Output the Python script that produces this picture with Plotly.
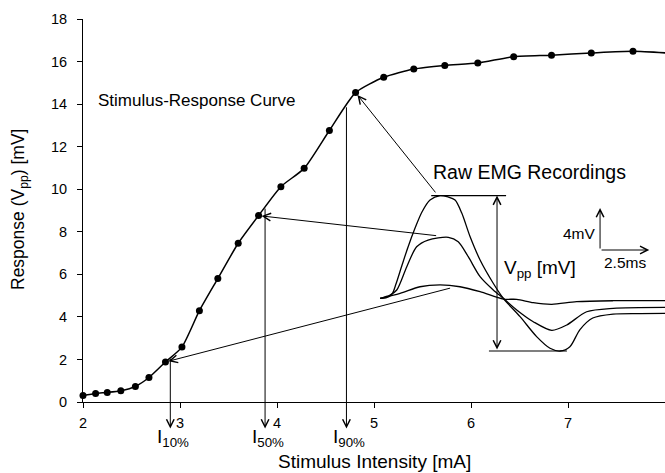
import plotly.graph_objects as go

# ---------------- data ----------------
stim_mA = [2.00, 2.13, 2.25, 2.39, 2.54, 2.68, 2.85, 3.02, 3.20, 3.39, 3.60, 3.81, 4.04,
           4.28, 4.54, 4.81, 5.10, 5.41, 5.73, 6.07, 6.44, 6.83, 7.24, 7.67, 8.10]
resp_mV = [0.30, 0.40, 0.45, 0.53, 0.73, 1.15, 1.88, 2.58, 4.29, 5.80, 7.46, 8.76, 10.12,
           10.98, 12.76, 14.54, 15.26, 15.65, 15.82, 15.93, 16.23, 16.30, 16.40, 16.48, 16.38]

x_ticks = [2, 3, 4, 5, 6, 7, 8]
y_ticks = [0, 2, 4, 6, 8, 10, 12, 14, 16, 18]

# threshold intensities (I10%, I50%, I90%)
pct_labels = ["10%", "50%", "90%"]
pct_x = [2.90, 3.877, 4.716]
pct_y = [2.09, 9.16, 13.92]

# raw EMG recordings (time in ms, amplitude in mV)
big_t = [0.00, 0.30, 0.61, 0.81, 1.12, 1.42, 1.78, 2.13, 2.54, 3.05, 3.45, 3.81, 4.15, 4.57,
         5.08, 5.74, 6.26, 7.11, 7.95, 8.63, 9.14, 9.64, 10.15, 10.80, 11.83, 13.20, 14.47]
big_v = [0.00, 0.03, 0.41, 1.36, 3.17, 4.87, 6.69, 8.22, 9.36, 9.78, 9.65, 9.36, 8.12, 5.88,
         3.65, 1.46, 0.00, -1.75, -3.65, -4.76, -5.02, -4.61, -2.98, -1.88, -1.50, -1.45, -1.43]
mid_t = [0.00, 0.51, 0.85, 1.36, 1.86, 2.44, 3.47, 3.97, 4.48, 5.08, 5.75, 6.26, 6.94, 7.78,
         8.72, 9.48, 10.49, 11.84, 14.47]
mid_v = [0.00, 0.31, 0.79, 3.01, 4.91, 5.55, 5.81, 5.39, 3.96, 2.06, 0.79, 0.00, -1.11, -2.23,
         -3.05, -2.54, -1.28, -0.95, -0.86]
small_t = [0.00, 1.02, 2.03, 3.05, 4.06, 5.08, 6.26, 6.94, 7.78, 8.72, 9.98, 11.84, 14.47]
small_v = [0.00, 0.48, 1.10, 1.27, 1.10, 0.63, -0.07, -0.10, -0.42, -0.57, -0.32, -0.23, -0.23]

# arrows linking recordings to curve points
link_point_idx = [15, 11, 6]
link_tail_x = [5.646, 5.656, 5.800]
link_tail_y = [9.78, 7.81, 5.37]

# scale bar
scale_mV = 4
scale_ms = 2.5
scale_origin = (11.17, 4.6)

# ---------------- layout geometry ----------------
W, H = 665, 473
L, T, PW, PH = 83, 19, 582, 383
PX_MS, PX_MV = 19.7, 10.5          # inset scale (pixels per ms / per mV)
ORG_X, ORG_Y = 380, 298.3           # pixel of inset origin (t=0, v=0)
y2dom = [0.05, 0.60]
x2dom = [(ORG_X - L) / PW, 1.0]
x2rng = [0, (L + PW - ORG_X) / PX_MS]
py_bot = T + PH * (1 - y2dom[0])
py_top = T + PH * (1 - y2dom[1])
y2rng = [(ORG_Y - py_bot) / PX_MV, (ORG_Y - py_top) / PX_MV]

FONT = "Arial, Liberation Sans, sans-serif"
BLK = "black"

fig = go.Figure()

fig.add_trace(go.Scatter(
    x=stim_mA, y=resp_mV, mode="lines+markers",
    line=dict(color=BLK, width=1.5, shape="spline", smoothing=0.6),
    marker=dict(color=BLK, size=7), cliponaxis=False, showlegend=False,
    xaxis="x", yaxis="y"))

for tt, vv in [(big_t, big_v), (mid_t, mid_v), (small_t, small_v)]:
    fig.add_trace(go.Scatter(
        x=tt, y=vv, mode="lines",
        line=dict(color=BLK, width=1.3, shape="spline", smoothing=0.8),
        showlegend=False, xaxis="x2", yaxis="y2"))

anns = []
shapes = []

def arrow(x, y, ax, ay, xref="x", yref="y", standoff=0, **kw):
    d = dict(x=x, y=y, ax=ax, ay=ay, xref=xref, yref=yref, axref=xref, ayref=yref,
             text="", showarrow=True, arrowhead=5, arrowsize=1.5, arrowwidth=1,
             arrowcolor=BLK, standoff=standoff)
    d.update(kw)
    anns.append(d)

# vertical threshold arrows and labels
for lab, px_, py_ in zip(pct_labels, pct_x, pct_y):
    arrow(px_, -1.25, px_, py_)
    anns.append(dict(x=px_, y=(T + PH - 424) / PH, xref="x", yref="paper",
                     text="I<sub>" + lab + "</sub>",
                     showarrow=False, xanchor="left", yanchor="top", xshift=-15,
                     font=dict(family=FONT, size=19, color=BLK)))

# link arrows from recordings to curve
for i, tx, ty in zip(link_point_idx, link_tail_x, link_tail_y):
    arrow(stim_mA[i], resp_mV[i], tx, ty, standoff=3)

# Vpp marker lines
vmax, vmin = max(big_v), min(big_v)
t_at_max = big_t[big_v.index(vmax)]
t_at_min = big_t[big_v.index(vmin)]
vpp_t = 5.94
shapes.append(dict(type="line", xref="x2", yref="y2", x0=t_at_max - 0.45, x1=6.40,
                   y0=vmax, y1=vmax, line=dict(color=BLK, width=1.2)))
shapes.append(dict(type="line", xref="x2", yref="y2", x0=5.53, x1=t_at_min + 0.35,
                   y0=vmin, y1=vmin, line=dict(color=BLK, width=1.2)))
arrow(vpp_t, vmax, vpp_t, vmin, xref="x2", yref="y2", arrowside="end+start",
      startarrowhead=5, startarrowsize=1.5)

# scale bar
sx, sy = scale_origin
arrow(sx, sy + scale_mV, sx, sy, xref="x2", yref="y2")
arrow(sx + scale_ms, sy, sx, sy, xref="x2", yref="y2")
anns.append(dict(x=sx - 0.12, y=sy + 1.6, xref="x2", yref="y2", text="4mV", showarrow=False,
                 xanchor="right", yanchor="middle", font=dict(family=FONT, size=15.5, color=BLK)))
anns.append(dict(x=sx + scale_ms / 2, y=sy - 1.2, xref="x2", yref="y2", text="2.5ms",
                 showarrow=False, xanchor="center", yanchor="middle",
                 font=dict(family=FONT, size=15.5, color=BLK)))
anns.append(dict(x=6.19, y=2.75, xref="x2", yref="y2", text="V<sub>pp</sub> [mV]",
                 showarrow=False, xanchor="left", yanchor="middle",
                 font=dict(family=FONT, size=19, color=BLK)))

# text labels
anns.append(dict(x=2.13, y=14.19, xref="x", yref="y", text="Stimulus-Response Curve",
                 showarrow=False, xanchor="left", yanchor="middle",
                 font=dict(family=FONT, size=17, color=BLK)))
anns.append(dict(x=6.608, y=10.80, xref="x", yref="y", text="Raw EMG Recordings",
                 showarrow=False, xanchor="center", yanchor="middle",
                 font=dict(family=FONT, size=19.5, color=BLK)))

# axis titles
anns.append(dict(x=(374 - L) / PW, y=(T + PH - H) / PH, xref="paper", yref="paper",
                 text="Stimulus Intensity [mA]", showarrow=False, xanchor="center",
                 yanchor="bottom", borderpad=0, font=dict(family=FONT, size=19, color=BLK)))
anns.append(dict(x=(19 - L) / PW, y=(T + PH - 210) / PH, xref="paper", yref="paper",
                 text="Response (V<sub>pp</sub>) [mV]", showarrow=False, textangle=-90,
                 xanchor="center", yanchor="middle", font=dict(family=FONT, size=17.5, color=BLK)))

axis_common = dict(showgrid=False, zeroline=False, showline=True, linecolor=BLK, linewidth=1,
                   ticks="outside", ticklen=5, tickwidth=1, tickcolor=BLK,
                   tickfont=dict(family=FONT, size=14.5, color=BLK))

fig.update_layout(
    width=W, height=H,
    margin=dict(l=L, r=W - L - PW, t=T, b=H - T - PH, pad=0),
    paper_bgcolor="white", plot_bgcolor="white",
    xaxis=dict(range=[2, 8], tickvals=x_ticks, domain=[0, 1], anchor="y",
               ticklabelstandoff=3, **axis_common),
    yaxis=dict(range=[0, 18], tickvals=y_ticks, domain=[0, 1], anchor="x",
               ticklabelstandoff=7, **axis_common),
    xaxis2=dict(range=x2rng, domain=x2dom, anchor="y2", visible=False),
    yaxis2=dict(range=y2rng, domain=y2dom, anchor="x2", visible=False),
    annotations=anns, shapes=shapes, showlegend=False,
)

fig.write_html("out.html")
